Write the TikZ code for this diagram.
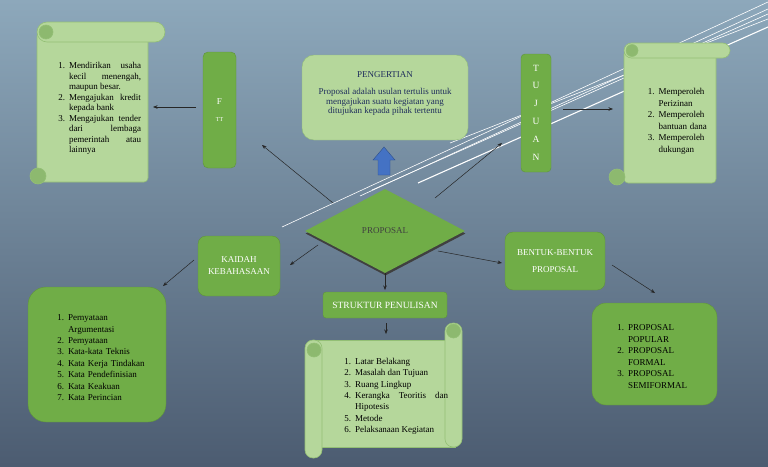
\documentclass[tikz,border=0pt]{standalone}
\usepackage{fontspec}
\setmainfont{Liberation Serif}
\usepackage{enumitem}
\usepackage{tikz}
\usetikzlibrary{arrows.meta,shapes.geometric}

\definecolor{bgTop}{HTML}{8DA8BB}
\definecolor{bgBot}{HTML}{4C5C71}
\definecolor{leafGreen}{HTML}{70AD47}
\definecolor{paleGreen}{HTML}{B5D79B}
\definecolor{paleEdge}{HTML}{93BF75}
\definecolor{curlGreen}{HTML}{8DB96F}
\definecolor{navyText}{HTML}{1F2D5C}
\definecolor{blueArrow}{HTML}{4472C4}

\setlist[enumerate]{nosep,label=\arabic*.,leftmargin=12pt,labelsep=4pt}
\hyphenpenalty=10000
\tolerance=10000

\begin{document}
\begin{tikzpicture}[x=1pt, y=-1pt, every node/.style={font=\fontsize{9}{11}\selectfont},
  darkbox/.style={draw=leafGreen!85!black, fill=leafGreen, text=white, align=center, inner sep=0pt},
  palebox/.style={draw=paleEdge, fill=paleGreen, inner sep=0pt},
  scroll/.style={draw=paleEdge, fill=paleGreen, line width=0.6pt},
  curl/.style={draw=paleEdge, fill=curlGreen, line width=0.6pt},
  listtext/.style={inner sep=0pt, anchor=north, text=black},
  arr/.style={-{Stealth[length=4.5pt,width=3.5pt]}, line width=0.5pt, draw=black!85},
  deco/.style={white, line width=0.6pt}]

\useasboundingbox (0,0) rectangle (768,466);

% Slide background
\shade[top color=bgTop, bottom color=bgBot] (0,0) rectangle (768,466);

% Decorative white strokes
\begin{scope}
\clip (0,0) rectangle (768,466);
\draw[deco] (282,227) -- (768,2);
\draw[deco] (360,196) -- (768,9);
\draw[deco] (372,190) -- (768,14);
\draw[deco] (450,143) -- (768,19);
\draw[deco, line width=1.1pt] (418,183) -- (768,27);
\end{scope}

% Left scroll (fungsi)
\draw[scroll, rounded corners=4pt] (37,32) rectangle (148,182);
\draw[scroll, rounded corners=10pt] (37,22) rectangle (165,42);
\draw[curl] (46,32) circle (7);
\draw[curl] (38,176) circle (8);
\node[listtext, text width=83pt, align=justify, font=\fontsize{9}{10.5}\selectfont] (fungsiList) at (99.5,58) {%
  \begin{enumerate}[leftmargin=11pt]
  \item Mendirikan usaha kecil menengah, maupun besar.
  \item Mengajukan kredit kepada bank
  \item Mengajukan tender dari lembaga pemerintah atau lainnya
  \end{enumerate}};

% F box
\node[darkbox, rounded corners=5pt, minimum width=33pt, minimum height=116pt] (fungsiBox) at (219.5,110) {};
\node[text=white, align=center, font=\fontsize{9}{17}\selectfont] (fungsiText) at (219.5,110.5) {F\\{\fontsize{6}{6}\selectfont TT}};

% Pengertian
\node[palebox, rounded corners=12pt, minimum width=166pt, minimum height=85pt] (pengertianBox) at (385,97.5) {};
\node[text=navyText, align=center, inner sep=0pt, font=\fontsize{9}{9.5}\selectfont] (pengertianText) at (385,93.5)
  {PENGERTIAN\\[8pt]Proposal adalah usulan tertulis untuk\\mengajukan suatu kegiatan yang\\ditujukan kepada pihak tertentu};

% Blue block arrow
\filldraw[fill=blueArrow, draw=blueArrow!70!black, line width=0.4pt]
  (378,175) -- (378,160) -- (373,160) -- (384,147) -- (395,160) -- (390,160) -- (390,175) -- cycle;

% Tujuan
\node[darkbox, rounded corners=4pt, minimum width=30pt, minimum height=118pt] (tujuanBox) at (536,113) {};
\node[text=white, align=center, font=\fontsize{9.5}{17.8}\selectfont] (tujuanText) at (536,112.5) {T\\U\\J\\U\\A\\N};

% Right scroll (tujuan)
\draw[scroll, rounded corners=4pt] (624,50) rectangle (716,183);
\draw[scroll, rounded corners=7.5pt] (624,43) rectangle (730,58);
\draw[curl] (632,50.5) circle (6);
\draw[curl] (617,177) circle (8);
\node[listtext, text width=63pt, font=\fontsize{9}{11.5}\selectfont] (tujuanList) at (677,83) {%
  \centering
  \begin{enumerate}[leftmargin=13pt]
  \item Memperoleh Perizinan
  \item Memperoleh bantuan dana
  \item Memperoleh dukungan
  \end{enumerate}};

% Proposal diamond
\node[diamond, fill=black!75, minimum width=160pt, minimum height=84pt, inner sep=0pt] (proposalShadow) at (385.5,233.5) {};
\node[diamond, fill=leafGreen, minimum width=160pt, minimum height=84pt, inner sep=0pt, text=black!75] (proposal) at (385,231) {PROPOSAL};

% Second level boxes
\node[darkbox, rounded corners=8pt, minimum width=82pt, minimum height=60pt, font=\fontsize{9}{12}\selectfont] (kaidahBox) at (239,266) {KAIDAH\\KEBAHASAAN};
\node[darkbox, rounded corners=8pt, minimum width=100pt, minimum height=58pt, font=\fontsize{9}{17}\selectfont] (bentukBox) at (555,261) {BENTUK-BENTUK\\PROPOSAL};
\node[darkbox, rounded corners=3pt, minimum width=124pt, minimum height=26pt, font=\fontsize{9.5}{11}\selectfont] (strukturBox) at (385,305) {STRUKTUR PENULISAN};

% Kaidah list
\node[darkbox, rounded corners=18pt, minimum width=138pt, minimum height=135pt] (kaidahListBox) at (97,354.5) {};
\node[listtext, text width=93pt, align=left, font=\fontsize{9}{11.4}\selectfont] (kaidahList) at (101.5,309) {%
  \begin{enumerate}[leftmargin=13pt]
  \item Pernyataan Argumentasi
  \item Pernyataan
  \item Kata-kata Teknis
  \item Kata Kerja Tindakan
  \item Kata Pendefinisian
  \item Kata Keakuan
  \item Kata Perincian
  \end{enumerate}};

% Struktur scroll
\draw[scroll] (314,340) rectangle (455,447);
\draw[scroll, rounded corners=8pt] (445,323) rectangle (462,447);
\draw[scroll, rounded corners=8pt] (305,340) rectangle (322,458);
\draw[curl] (453.5,331) circle (7);
\draw[curl] (314,350) circle (7);
\node[listtext, text width=105pt, align=justify, font=\fontsize{9}{11.3}\selectfont] (strukturList) at (395.5,353) {%
  \begin{enumerate}
  \item Latar Belakang
  \item Masalah dan Tujuan
  \item Ruang Lingkup
  \item Kerangka Teoritis dan Hipotesis
  \item Metode
  \item Pelaksanaan Kegiatan
  \end{enumerate}};

% Bentuk list
\node[darkbox, rounded corners=14pt, minimum width=125pt, minimum height=102pt] (bentukListBox) at (654.5,354) {};
\node[listtext, text width=75pt, align=left, font=\fontsize{9}{11.5}\selectfont] (bentukList) at (653.5,319) {%
  \begin{enumerate}
  \item PROPOSAL POPULAR
  \item PROPOSAL FORMAL
  \item PROPOSAL SEMIFORMAL
  \end{enumerate}};

% Connectors
\coordinate (fungsiOut) at (196,107);
\coordinate (fungsiTip) at (153,107);
\coordinate (tujuanOut) at (563,109);
\coordinate (tujuanTip) at (613,109);
\coordinate (propUL) at (333,203);
\coordinate (propULTip) at (262,145);
\coordinate (propUR) at (435,198);
\coordinate (propURTip) at (502,143);
\coordinate (propL) at (318,245);
\coordinate (kaidahTip) at (290,265);
\coordinate (strukturTip) at (385,290);
\coordinate (propR) at (438,251);
\coordinate (bentukTip) at (502,263);
\coordinate (bentukOut) at (612,265);
\coordinate (bentukListTip) at (655,293);
\coordinate (kaidahOut) at (194,260);
\coordinate (kaidahListTip) at (163,286);
\coordinate (strukturOut) at (386,323);
\coordinate (strukturListTip) at (386,334);

\draw[arr] (fungsiOut) -- (fungsiTip);
\draw[arr] (tujuanOut) -- (tujuanTip);
\draw[arr] (propUL) -- (propULTip);
\draw[arr] (propUR) -- (propURTip);
\draw[arr] (propL) -- (kaidahTip);
\draw[arr] (proposal.south) -- (strukturTip);
\draw[arr] (propR) -- (bentukTip);
\draw[arr] (bentukOut) -- (bentukListTip);
\draw[arr] (kaidahOut) -- (kaidahListTip);
\draw[arr] (strukturOut) -- (strukturListTip);

\end{tikzpicture}
\end{document}
